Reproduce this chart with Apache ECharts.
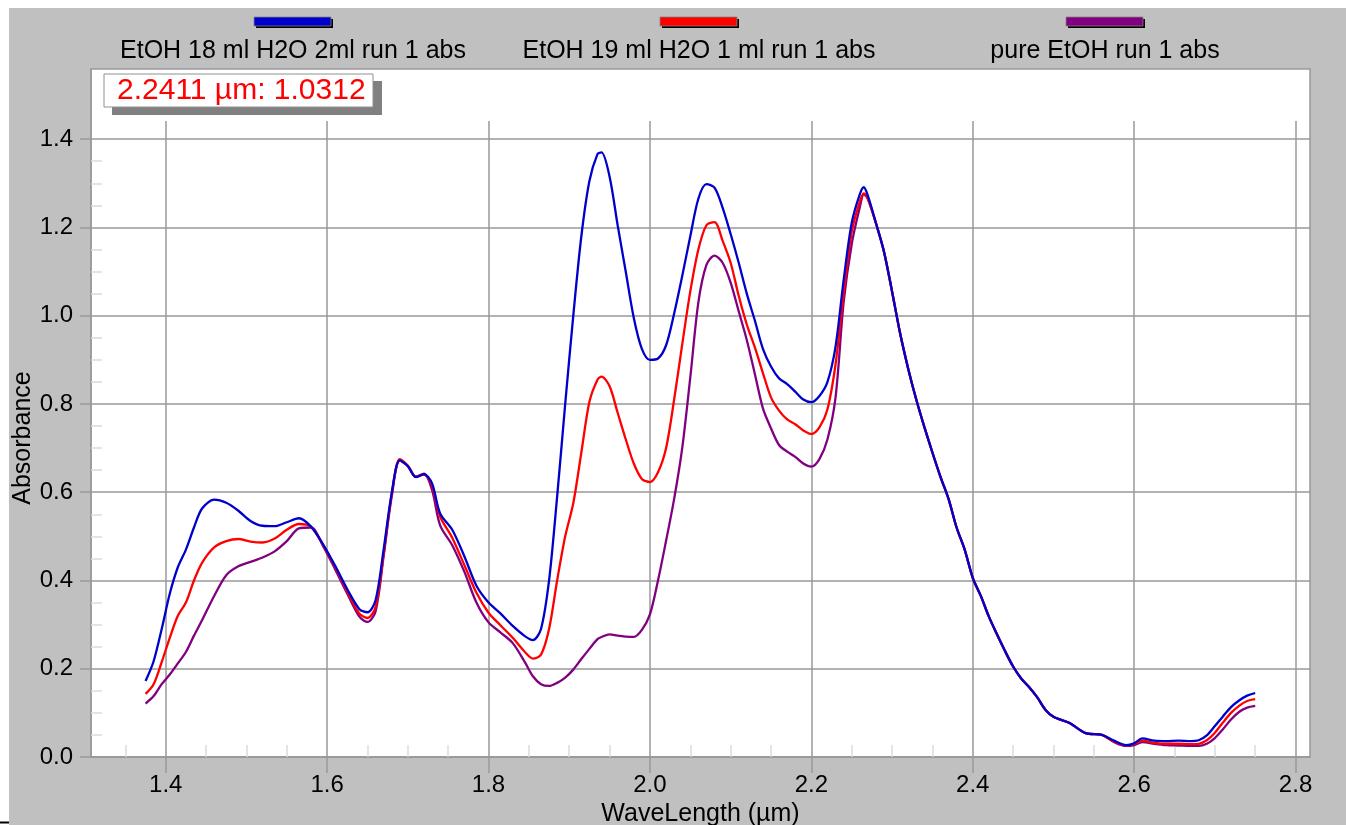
<!DOCTYPE html>
<html><head><meta charset="utf-8">
<script src="https://cdn.jsdelivr.net/npm/echarts@6/dist/echarts.min.js"></script>
<style>html,body{margin:0;padding:0;background:#fff}#c{width:1346px;height:825px}</style>
</head><body><div id="c"></div>
<script>
const WAVELENGTH = [1.375,1.385,1.395,1.405,1.415,1.425,1.435,1.445,1.46,1.475,1.49,1.505,1.52,1.535,1.55,1.565,1.58,1.595,1.61,1.625,1.64,1.65,1.66,1.67,1.68,1.69,1.70,1.71,1.72,1.73,1.74,1.755,1.77,1.785,1.80,1.815,1.83,1.845,1.855,1.865,1.875,1.885,1.895,1.905,1.915,1.925,1.935,1.94,1.95,1.96,1.97,1.98,1.99,2.00,2.01,2.02,2.03,2.04,2.05,2.06,2.07,2.08,2.09,2.10,2.11,2.12,2.13,2.14,2.15,2.16,2.17,2.18,2.19,2.20,2.21,2.22,2.23,2.24,2.25,2.26,2.265,2.27,2.28,2.29,2.30,2.31,2.32,2.33,2.34,2.35,2.36,2.37,2.38,2.39,2.40,2.41,2.42,2.43,2.44,2.45,2.46,2.47,2.48,2.49,2.50,2.52,2.54,2.56,2.575,2.59,2.60,2.61,2.625,2.64,2.655,2.67,2.68,2.69,2.70,2.71,2.72,2.73,2.74,2.75];

const BLUE = [0.172,0.217,0.29,0.37,0.43,0.47,0.52,0.563,0.583,0.576,0.558,0.535,0.524,0.523,0.532,0.541,0.522,0.482,0.433,0.38,0.335,0.328,0.355,0.47,0.598,0.672,0.659,0.634,0.641,0.62,0.552,0.515,0.455,0.388,0.35,0.325,0.297,0.274,0.265,0.29,0.40,0.59,0.80,1.00,1.18,1.305,1.366,1.370,1.315,1.205,1.10,0.995,0.925,0.900,0.903,0.933,1.005,1.09,1.18,1.265,1.298,1.29,1.245,1.185,1.12,1.05,0.989,0.925,0.885,0.858,0.845,0.828,0.81,0.804,0.818,0.85,0.93,1.08,1.21,1.275,1.291,1.272,1.21,1.145,1.055,0.96,0.88,0.81,0.748,0.69,0.635,0.585,0.52,0.47,0.406,0.365,0.318,0.278,0.24,0.205,0.178,0.158,0.135,0.107,0.091,0.077,0.054,0.050,0.037,0.027,0.031,0.042,0.037,0.036,0.037,0.036,0.038,0.049,0.07,0.092,0.113,0.128,0.139,0.145];

const RED = [0.143,0.165,0.215,0.27,0.32,0.35,0.40,0.44,0.475,0.489,0.494,0.488,0.486,0.495,0.515,0.528,0.522,0.48,0.43,0.375,0.325,0.315,0.34,0.46,0.595,0.675,0.66,0.635,0.64,0.615,0.545,0.497,0.435,0.372,0.327,0.298,0.27,0.238,0.223,0.232,0.29,0.40,0.50,0.575,0.69,0.805,0.855,0.862,0.84,0.78,0.72,0.665,0.63,0.623,0.645,0.70,0.81,0.935,1.055,1.15,1.205,1.212,1.17,1.12,1.045,0.98,0.928,0.87,0.815,0.785,0.765,0.754,0.74,0.732,0.747,0.788,0.89,1.05,1.19,1.258,1.277,1.265,1.21,1.145,1.055,0.96,0.88,0.81,0.748,0.69,0.635,0.585,0.52,0.47,0.406,0.365,0.318,0.278,0.24,0.205,0.178,0.158,0.135,0.107,0.091,0.077,0.054,0.050,0.035,0.026,0.029,0.037,0.032,0.030,0.030,0.029,0.030,0.038,0.055,0.078,0.100,0.116,0.127,0.131];

const PURPLE = [0.121,0.138,0.165,0.187,0.212,0.238,0.275,0.31,0.365,0.412,0.432,0.442,0.452,0.466,0.489,0.518,0.52,0.478,0.425,0.37,0.318,0.306,0.33,0.455,0.59,0.672,0.66,0.635,0.642,0.605,0.525,0.48,0.42,0.35,0.305,0.282,0.258,0.215,0.183,0.165,0.161,0.168,0.18,0.198,0.222,0.245,0.267,0.272,0.278,0.275,0.273,0.272,0.288,0.323,0.40,0.49,0.585,0.70,0.86,1.03,1.115,1.136,1.12,1.075,1.01,0.945,0.868,0.79,0.745,0.707,0.692,0.68,0.665,0.658,0.675,0.72,0.815,1.03,1.162,1.245,1.275,1.265,1.21,1.145,1.055,0.96,0.88,0.81,0.748,0.69,0.635,0.585,0.52,0.47,0.406,0.365,0.318,0.278,0.24,0.205,0.178,0.158,0.135,0.107,0.091,0.077,0.054,0.050,0.034,0.025,0.027,0.034,0.030,0.027,0.026,0.025,0.025,0.030,0.043,0.063,0.085,0.102,0.112,0.116];

const SERIES_NAMES = ['EtOH 18 ml H2O 2ml run 1 abs', 'EtOH 19 ml H2O 1 ml run 1 abs', 'pure EtOH run 1 abs'];
const SERIES_COLORS = ['#0000cc', '#ff0000', '#800080'];
const SERIES_DATA = [BLUE, RED, PURPLE];

const X_TICKS = [1.4, 1.6, 1.8, 2.0, 2.2, 2.4, 2.6, 2.8];
const X_MINOR = [1.35,1.45,1.5,1.55,1.65,1.7,1.75,1.85,1.9,1.95,2.05,2.1,2.15,2.25,2.3,2.35,2.45,2.5,2.55,2.65,2.7,2.75];
const Y_TICKS = [0, 0.2, 0.4, 0.6, 0.8, 1.0, 1.2, 1.4];
const Y_MINOR = [0.05,0.1,0.15,0.25,0.3,0.35,0.45,0.5,0.55,0.65,0.7,0.75,0.85,0.9,0.95,1.05,1.1,1.15,1.25,1.3,1.35];
const X_MIN = 1.3074, X_MAX = 2.8179, Y_MIN = 0, Y_MAX = 1.559;
const VGRID_TOP = 1.441;
const CURSOR_X = 2.2411, CURSOR_Y = 1.0312;
const X_NAME = 'WaveLength (µm)', Y_NAME = 'Absorbance';

const FONT = "'Liberation Sans', Arial, sans-serif";
const chart = echarts.init(document.getElementById('c'), null, {renderer: 'canvas'});

const LEGEND_CX = [293, 699, 1105];
const graphic = [
  {type: 'rect', z: -10, silent: true, shape: {x: 9, y: 8, width: 1337, height: 817}, style: {fill: '#c0c0c0'}},
  {type: 'line', silent: true, shape: {x1: 0, y1: 822.5, x2: 9, y2: 822.5}, style: {stroke: '#000', lineWidth: 2}},
  {type: 'text', silent: true, x: 23, y: 438, rotation: Math.PI / 2,
   style: {text: Y_NAME, font: '25px ' + FONT, fill: '#000', align: 'center', verticalAlign: 'middle'}},
  {type: 'rect', silent: true, z: 20, shape: {x: 112, y: 81, width: 270, height: 34}, style: {fill: '#808080'}},
  {type: 'rect', silent: true, z: 21, shape: {x: 104, y: 74, width: 269, height: 33}, style: {fill: '#fff', stroke: '#909090', lineWidth: 1}},
  {type: 'text', silent: true, z: 22, x: 117, y: 91,
   style: {text: CURSOR_X.toFixed(4) + ' µm: ' + CURSOR_Y.toFixed(4), font: '30px ' + FONT, fill: '#ff0000', align: 'left', verticalAlign: 'middle'}}
];
SERIES_NAMES.forEach((name, i) => {
  const cx = LEGEND_CX[i];
  graphic.push({type: 'rect', silent: true, shape: {x: cx - 37, y: 19, width: 77, height: 9}, style: {fill: '#000'}});
  graphic.push({type: 'rect', silent: true, shape: {x: cx - 39, y: 17, width: 77, height: 9}, style: {fill: SERIES_COLORS[i], stroke: '#808080', lineWidth: 0.8}});
  graphic.push({type: 'text', silent: true, x: cx, y: 51,
    style: {text: name, font: '25px ' + FONT, fill: '#000', align: 'center', verticalAlign: 'middle'}});
});

const dataSeries = SERIES_NAMES.map((name, i) => ({
  name: name, type: 'line', xAxisIndex: 0, yAxisIndex: 0, z: 3 + (2 - i),
  data: WAVELENGTH.map((w, j) => [w, SERIES_DATA[i][j]]),
  showSymbol: false, smooth: 0.3, animation: false,
  lineStyle: {color: SERIES_COLORS[i], width: 2.3}, itemStyle: {color: SERIES_COLORS[i]}
}));

const option = {
  backgroundColor: '#fff',
  animation: false,
  textStyle: {fontFamily: FONT},
  graphic: graphic,
  grid: {left: 91, right: 36, top: 69, bottom: 68, show: true, containLabel: false, outerBoundsMode: 'none',
         backgroundColor: '#fff', borderColor: '#999', borderWidth: 1.5, z: 0},
  xAxis: [
    {type: 'value', gridIndex: 0, min: X_MIN, max: X_MAX, position: 'bottom',
     name: X_NAME, nameLocation: 'middle', nameGap: 43, nameTextStyle: {fontSize: 25, color: '#000', fontFamily: FONT},
     axisLine: {show: true, lineStyle: {color: '#999', width: 1.5}},
     axisTick: {show: true, inside: false, length: 16, customValues: X_TICKS, lineStyle: {color: '#999', width: 1.5}},
     axisLabel: {show: true, customValues: X_TICKS, margin: 16, fontSize: 24, color: '#000', fontFamily: FONT, formatter: v => v.toFixed(1)},
     splitLine: {show: false}},
    {type: 'value', gridIndex: 0, min: X_MIN, max: X_MAX, position: 'bottom',
     axisLine: {show: false},
     axisTick: {show: true, inside: true, length: 12, customValues: X_MINOR, lineStyle: {color: '#dcdcdc', width: 1.5}},
     axisLabel: {show: false}, splitLine: {show: false}}
  ],
  yAxis: [
    {type: 'value', gridIndex: 0, min: Y_MIN, max: Y_MAX, interval: 0.2, position: 'left',
     axisLine: {show: true, lineStyle: {color: '#999', width: 1.5}},
     axisTick: {show: true, inside: false, length: 11, customValues: Y_TICKS, lineStyle: {color: '#999', width: 1.5}},
     axisLabel: {show: true, customValues: Y_TICKS, margin: 18, fontSize: 24, color: '#000', fontFamily: FONT, formatter: v => v.toFixed(1)},
     splitLine: {show: true, lineStyle: {color: '#999', width: 1.5}}},
    {type: 'value', gridIndex: 0, min: Y_MIN, max: Y_MAX, position: 'left',
     axisLine: {show: false},
     axisTick: {show: true, inside: true, length: 11, customValues: Y_MINOR, lineStyle: {color: '#dcdcdc', width: 1.5}},
     axisLabel: {show: false}, splitLine: {show: false}}
  ],
  series: [
    {type: 'line', xAxisIndex: 0, yAxisIndex: 0, z: 1, silent: true, data: [[X_TICKS[0], Y_MIN]],
     showSymbol: false, lineStyle: {opacity: 0},
     markLine: {silent: true, z: 1, animation: false, symbol: ['none', 'none'], label: {show: false},
       emphasis: {disabled: true},
       lineStyle: {color: '#999', width: 1.5, type: 'solid'},
       data: X_TICKS.map(v => [{coord: [v, Y_MIN]}, {coord: [v, VGRID_TOP]}])}}
  ].concat(dataSeries.slice().reverse())
};
chart.setOption(option);
</script></body></html>
